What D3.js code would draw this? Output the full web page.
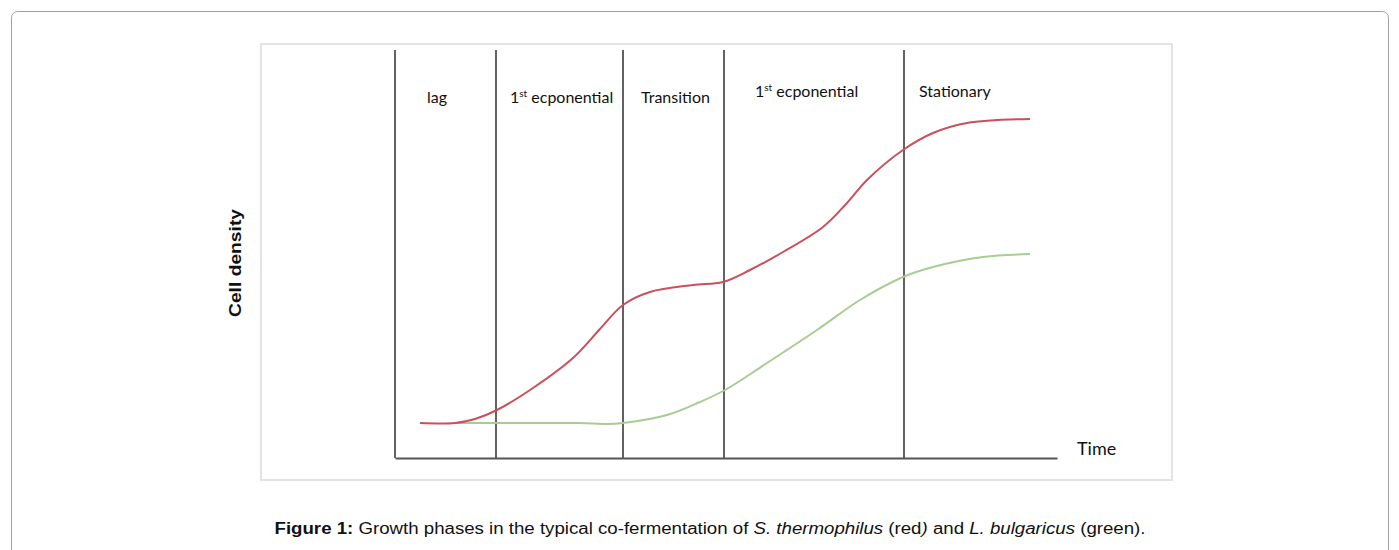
<!DOCTYPE html>
<html>
<head>
<meta charset="utf-8">
<script src="https://cdn.jsdelivr.net/npm/d3@7"></script>
<style>
  html, body { margin: 0; padding: 0; background: #ffffff; }
  svg { display: block; }
</style>
</head>
<body>
<svg id="chart" width="1399" height="550"></svg>
<script>
// ---- data (time, cell density in arbitrary units) ----
const redTime    = [2.5, 6.0, 8.0, 10.2, 13.8, 17.8, 20.5, 22.8, 25.5, 29.8, 32.8, 35.5, 38.8, 42.8, 45.2, 47.2, 50.8, 53.8, 57.2, 63.5];
const redDensity = [3.5, 3.5, 3.9, 4.8, 7.0, 10.0, 12.9, 15.3, 16.6, 17.3, 17.6, 18.8, 20.6, 23.1, 25.5, 27.8, 30.8, 32.5, 33.5, 33.9];
const greenTime    = [6.0, 12.5, 18.5, 21.2, 22.8, 27.2, 30.5, 33.0, 37.2, 42.2, 46.5, 50.8, 53.8, 58.8, 63.5];
const greenDensity = [3.5, 3.5, 3.5, 3.4, 3.5, 4.3, 5.6, 6.8, 9.5, 12.8, 15.8, 18.1, 19.1, 20.1, 20.4];
const phaseBounds = [0, 10.1, 22.8, 32.9, 50.9];
const phaseLabels = ["lag", "1st ecponential", "Transition", "1st ecponential", "Stationary"];
const phaseLabelTime = [3.2, 11.5, 24.6, 36.0, 52.4];
const phaseLabelDensity = [35.5, 35.5, 35.5, 36.1, 36.1];
const xLabel = "Time";
const yLabel = "Cell density";

const svg = d3.select("#chart");

// outer panel and image frame
svg.append("rect").attr("x", 11.5).attr("y", 11.5).attr("width", 1377).attr("height", 560)
  .attr("rx", 6).attr("fill", "none").attr("stroke", "#a0a0a0").attr("stroke-width", 1);
svg.append("rect").attr("x", 261).attr("y", 44).attr("width", 911).attr("height", 436)
  .attr("fill", "#ffffff").attr("stroke", "#e2e2ec").attr("stroke-width", 2);

const x = d3.scaleLinear().domain([0, 66.2]).range([395, 1057]);
const y = d3.scaleLinear().domain([0, 40.8]).range([458, 50]);

// phase boundaries
svg.append("g").selectAll("line").data(phaseBounds).join("line")
  .attr("x1", d => x(d)).attr("x2", d => x(d))
  .attr("y1", y(0)).attr("y2", y.range()[1])
  .attr("stroke", "#3a3a3a").attr("stroke-width", 1.6);

// x axis
const xAxis = svg.append("g").attr("transform", `translate(0,${y(0)})`)
  .call(d3.axisBottom(x).ticks(0).tickSizeOuter(0));
xAxis.select(".domain").attr("stroke", "#555").attr("stroke-width", 2.2);

// curves
const line = d3.line().x(d => x(d[0])).y(d => y(d[1])).curve(d3.curveCatmullRom.alpha(0.5));
const greenData = greenTime.map((t, i) => [t, greenDensity[i]]);
const redData = redTime.map((t, i) => [t, redDensity[i]]);
svg.append("path").datum(greenData).attr("d", line)
  .attr("fill", "none").attr("stroke", "#a9cc92").attr("stroke-width", 2);
svg.append("path").datum(redData).attr("d", line)
  .attr("fill", "none").attr("stroke", "#c9505c").attr("stroke-width", 2);

// phase labels
const lab = svg.append("g").attr("font-family", "Lato, 'Open Sans', sans-serif")
  .attr("font-size", 16).attr("fill", "#111");
phaseLabels.forEach((s, i) => {
  const t = lab.append("text").attr("x", x(phaseLabelTime[i])).attr("y", y(phaseLabelDensity[i]));
  if (s.startsWith("1st")) {
    t.append("tspan").text("1");
    t.append("tspan").text("st").attr("font-size", 10).attr("dy", -6);
    t.append("tspan").text(" ecponential").attr("dy", 6);
  } else {
    t.text(s);
  }
});

// axis titles
svg.append("text").attr("x", 1077).attr("y", 455)
  .attr("font-family", "Lato, 'Open Sans', sans-serif").attr("font-size", 18).attr("fill", "#111")
  .text(xLabel);
svg.append("text").attr("transform", "translate(241,263) rotate(-90)")
  .attr("text-anchor", "middle")
  .attr("font-family", "Liberation Sans, Arial, sans-serif").attr("font-weight", "bold")
  .attr("font-size", 17).attr("fill", "#111")
  .attr("textLength", 108).attr("lengthAdjust", "spacingAndGlyphs")
  .text(yLabel);

// caption
const cap = svg.append("text").attr("x", 710).attr("y", 534).attr("text-anchor", "middle")
  .attr("font-family", "Liberation Sans, Arial, sans-serif").attr("font-size", 16).attr("fill", "#111")
  .attr("textLength", 871).attr("lengthAdjust", "spacingAndGlyphs");
cap.append("tspan").attr("font-weight", "bold").text("Figure 1:");
cap.append("tspan").text(" Growth phases in the typical co-fermentation of ");
cap.append("tspan").attr("font-style", "italic").text("S. thermophilus");
cap.append("tspan").text(" (red");
cap.append("tspan").attr("font-style", "italic").text(")");
cap.append("tspan").text(" and ");
cap.append("tspan").attr("font-style", "italic").text("L. bulgaricus");
cap.append("tspan").text(" (green).");
</script>
</body>
</html>
